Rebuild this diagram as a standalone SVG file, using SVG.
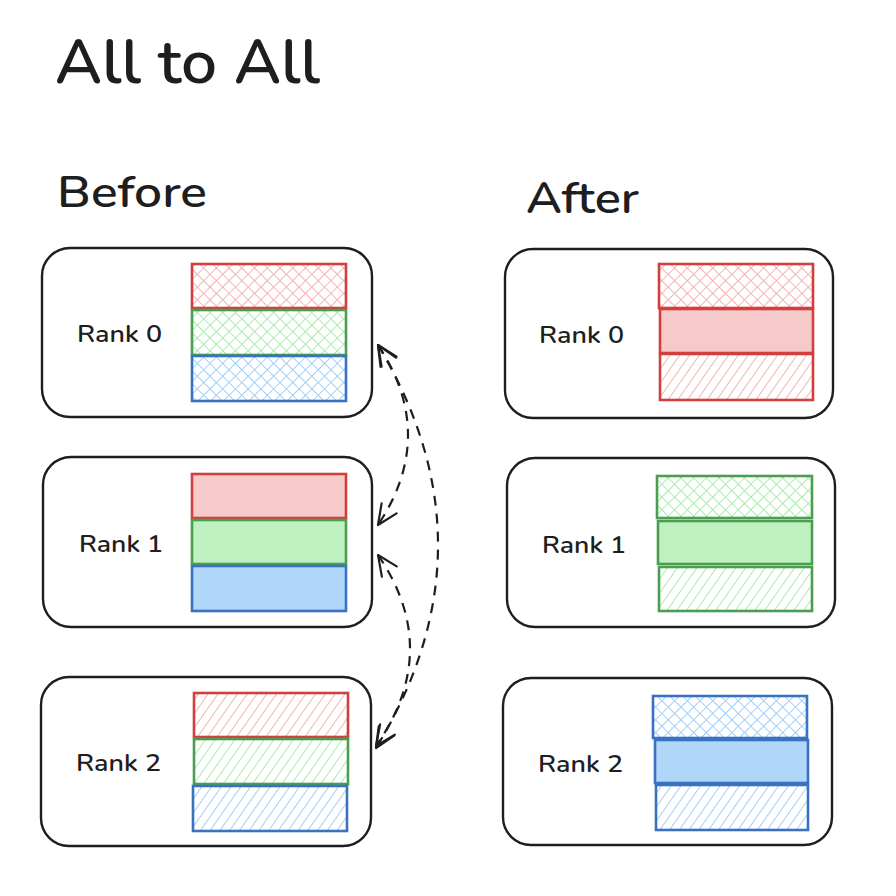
<svg xmlns="http://www.w3.org/2000/svg" width="896" height="896" viewBox="0 0 896 896">
<style>
.t{font-family:Nunito,"Open Sans",Lato,sans-serif;font-weight:600;fill:#1e1e1e}
.box{fill:none;stroke:#1e1e1e;stroke-width:2.4}
.r{stroke:#d23f3f;stroke-width:2.6}
.g{stroke:#4b9e50;stroke-width:2.6}
.b{stroke:#3a72c2;stroke-width:2.6}
.conn{fill:none;stroke:#1e1e1e;stroke-width:2.2;stroke-dasharray:10 8;marker-start:url(#ah);marker-end:url(#ah)}
</style>
<defs>
<pattern id="xr" patternUnits="userSpaceOnUse" width="9" height="9" patternTransform="rotate(45)"><path d="M0 0V9M0 0H9" stroke="#f4b4b4" stroke-width="2"/></pattern>
<pattern id="xg" patternUnits="userSpaceOnUse" width="9" height="9" patternTransform="rotate(45)"><path d="M0 0V9M0 0H9" stroke="#abeaae" stroke-width="2"/></pattern>
<pattern id="xb" patternUnits="userSpaceOnUse" width="9" height="9" patternTransform="rotate(45)"><path d="M0 0V9M0 0H9" stroke="#a2cff9" stroke-width="2"/></pattern>
<pattern id="hr" patternUnits="userSpaceOnUse" width="8" height="8" patternTransform="rotate(35)"><path d="M0 0V8" stroke="#f4b4b4" stroke-width="2"/></pattern>
<pattern id="hg" patternUnits="userSpaceOnUse" width="8" height="8" patternTransform="rotate(35)"><path d="M0 0V8" stroke="#abeaae" stroke-width="2"/></pattern>
<pattern id="hb" patternUnits="userSpaceOnUse" width="8" height="8" patternTransform="rotate(35)"><path d="M0 0V8" stroke="#a2cff9" stroke-width="2"/></pattern>
<marker id="ah" markerUnits="userSpaceOnUse" orient="auto-start-reverse" overflow="visible" markerWidth="1" markerHeight="1" refX="0" refY="0"><path d="M-20,-9 L0,0 L-20,9" fill="none" stroke="#1e1e1e" stroke-width="2.2" stroke-linecap="round" stroke-linejoin="round"/></marker>
</defs>
<rect width="896" height="896" fill="#ffffff"/>
<text class="t" x="55" y="83" font-size="62" textLength="265" lengthAdjust="spacingAndGlyphs">All to All</text>
<text class="t" x="57" y="207" font-size="44" textLength="150" lengthAdjust="spacingAndGlyphs">Before</text>
<text class="t" x="526" y="213" font-size="44" textLength="113" lengthAdjust="spacingAndGlyphs">After</text>

<g id="before-rank0">
<rect class="box" x="42" y="248" width="330" height="169" rx="28"/>
<text class="t" x="77" y="342" font-size="24" textLength="85" lengthAdjust="spacingAndGlyphs">Rank 0</text>
<rect class="r" x="192" y="264" width="154" height="44" fill="url(#xr)"/>
<rect class="g" x="192" y="310" width="154" height="45" fill="url(#xg)"/>
<rect class="b" x="192" y="356" width="154" height="45" fill="url(#xb)"/>
</g>
<g id="before-rank1">
<rect class="box" x="43" y="457" width="329" height="170" rx="28"/>
<text class="t" x="79" y="552" font-size="24" textLength="84" lengthAdjust="spacingAndGlyphs">Rank 1</text>
<rect class="r" x="192" y="474" width="154" height="44" fill="#f7caca"/>
<rect class="g" x="192" y="520" width="154" height="44" fill="#bff0c0"/>
<rect class="b" x="192" y="566" width="154" height="45" fill="#b0d6fa"/>
</g>
<g id="before-rank2">
<rect class="box" x="41" y="677" width="330" height="169" rx="28"/>
<text class="t" x="76" y="771" font-size="24" textLength="85" lengthAdjust="spacingAndGlyphs">Rank 2</text>
<rect class="r" x="194" y="693" width="154" height="44" fill="url(#hr)"/>
<rect class="g" x="194" y="739" width="154" height="45" fill="url(#hg)"/>
<rect class="b" x="193" y="786" width="154" height="45" fill="url(#hb)"/>
</g>

<g id="after-rank0">
<rect class="box" x="505" y="249" width="328" height="169" rx="28"/>
<text class="t" x="539" y="343" font-size="24" textLength="85" lengthAdjust="spacingAndGlyphs">Rank 0</text>
<rect class="r" x="659" y="264" width="154" height="44" fill="url(#xr)"/>
<rect class="r" x="660" y="309" width="153" height="44" fill="#f7caca"/>
<rect class="r" x="660" y="354" width="153" height="46" fill="url(#hr)"/>
</g>
<g id="after-rank1">
<rect class="box" x="507" y="458" width="328" height="169" rx="28"/>
<text class="t" x="542" y="553" font-size="24" textLength="84" lengthAdjust="spacingAndGlyphs">Rank 1</text>
<rect class="g" x="657" y="476" width="155" height="42" fill="url(#xg)"/>
<rect class="g" x="658" y="521" width="154" height="43" fill="#bff0c0"/>
<rect class="g" x="659" y="567" width="153" height="44" fill="url(#hg)"/>
</g>
<g id="after-rank2">
<rect class="box" x="503" y="678" width="329" height="167" rx="28"/>
<text class="t" x="538" y="772" font-size="24" textLength="85" lengthAdjust="spacingAndGlyphs">Rank 2</text>
<rect class="b" x="653" y="696" width="154" height="42" fill="url(#xb)"/>
<rect class="b" x="655" y="740" width="153" height="43" fill="#b0d6fa"/>
<rect class="b" x="656" y="785" width="152" height="45" fill="url(#hb)"/>
</g>

<g id="connectors">
<path class="conn" d="M378,345 Q438,435 378,525"/>
<path class="conn" d="M378,345 Q499,547 376,748"/>
<path class="conn" d="M378,555 Q443,650 376,746"/>
</g>
</svg>
